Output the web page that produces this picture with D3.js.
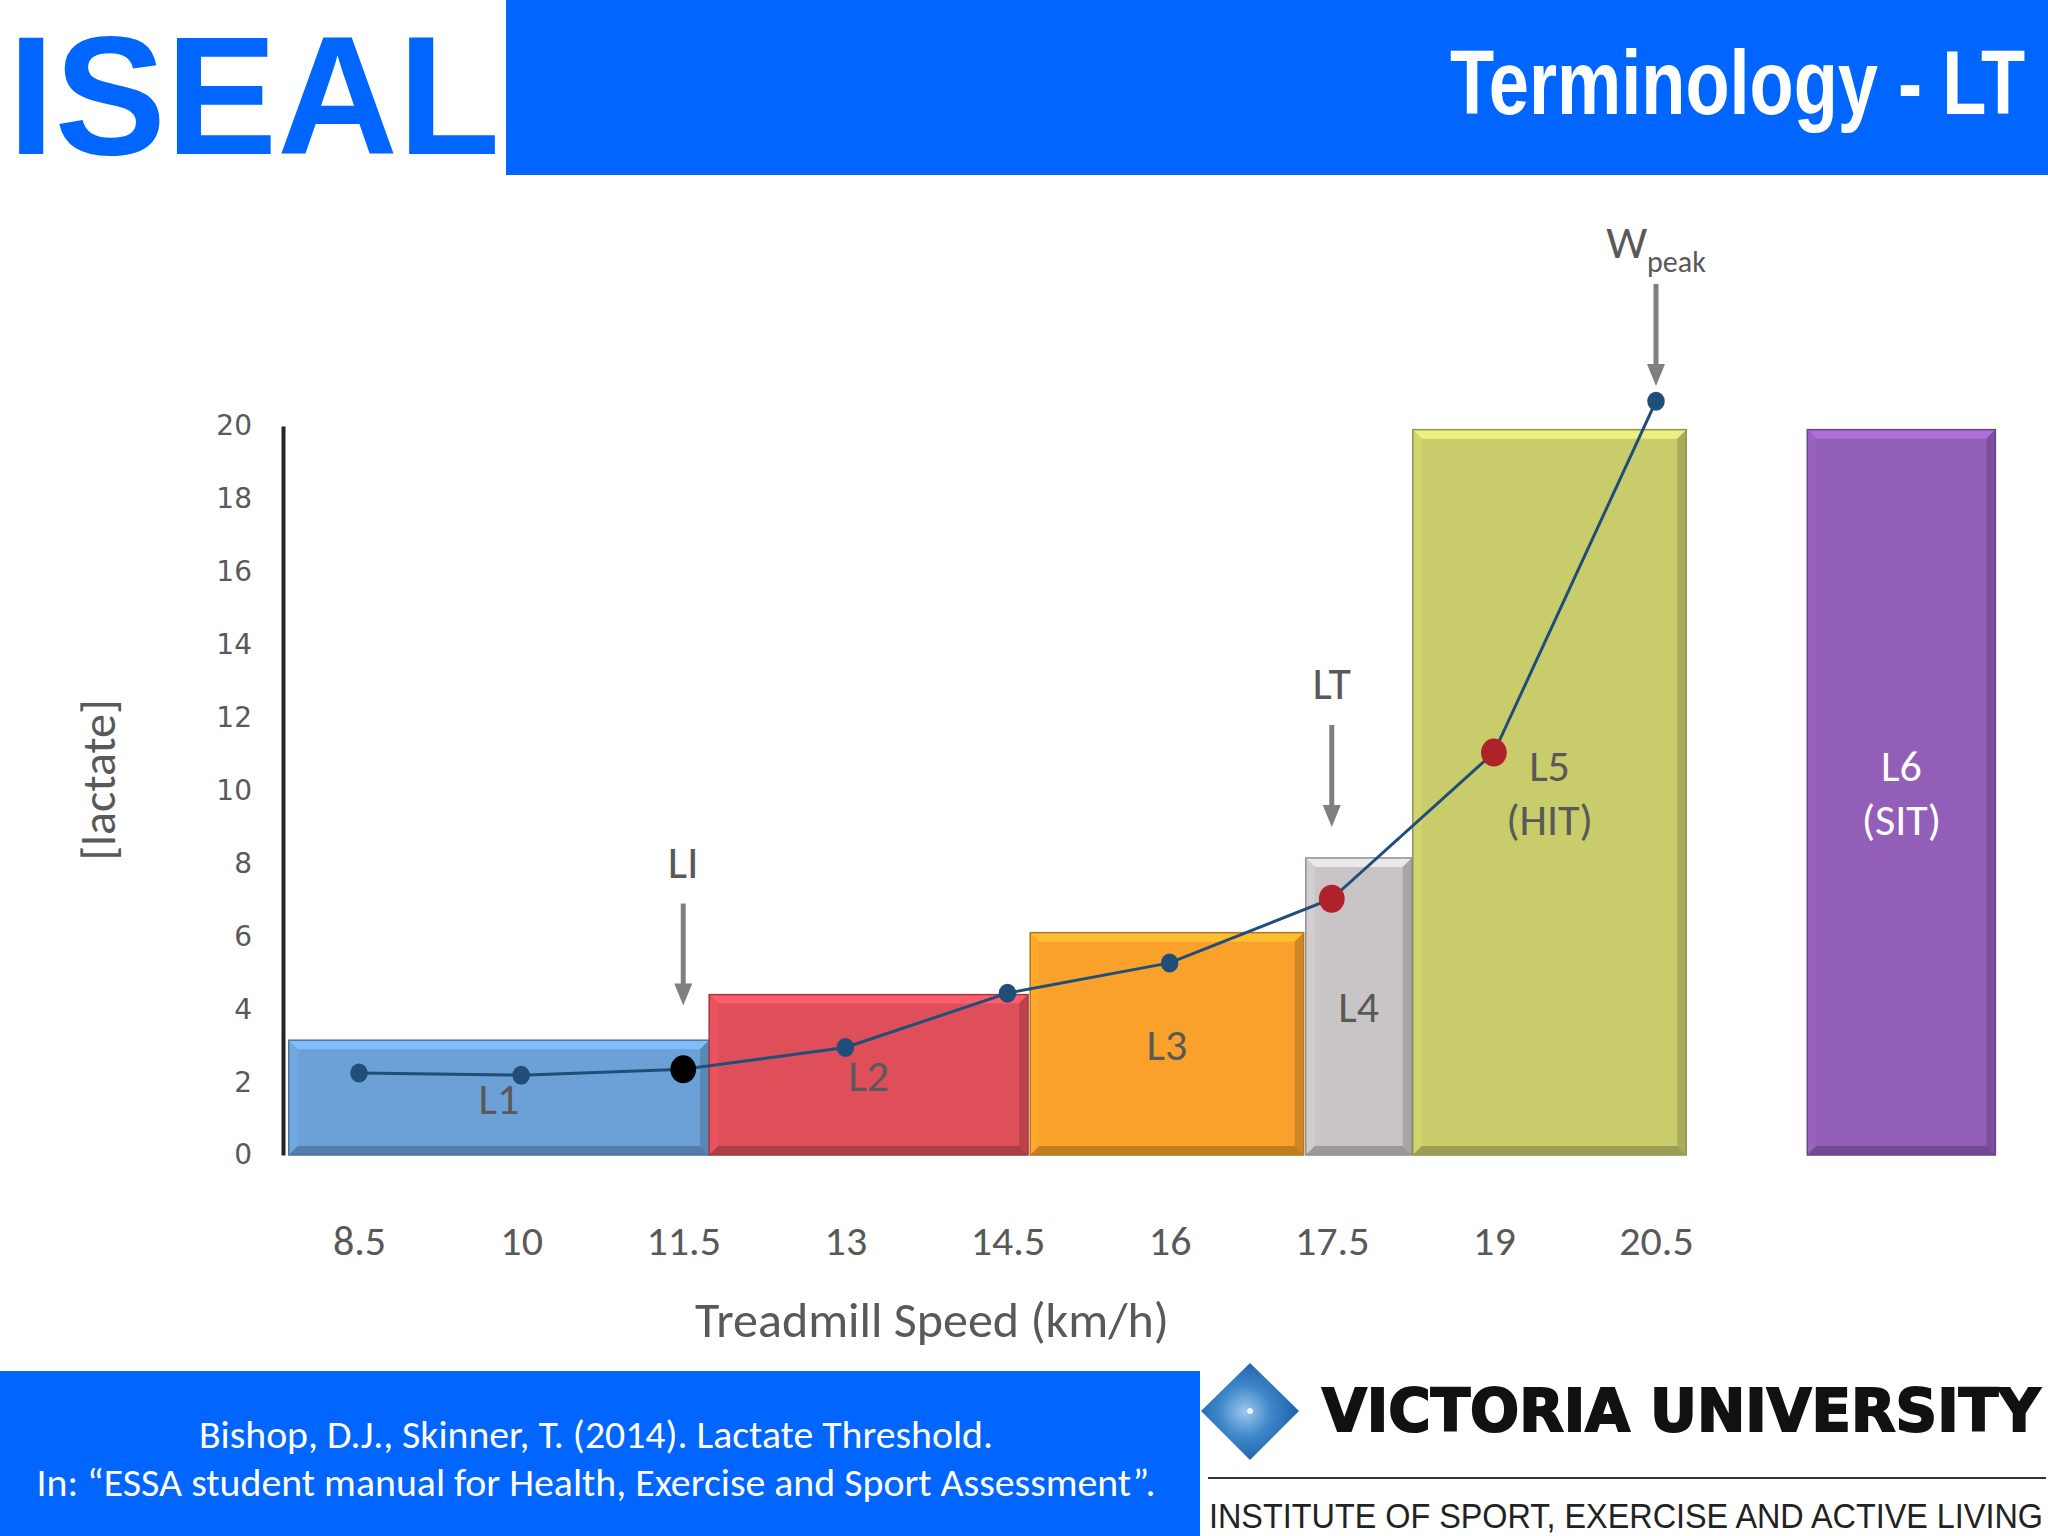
<!DOCTYPE html>
<html><head><meta charset="utf-8">
<script src="https://cdn.jsdelivr.net/npm/d3@7"></script>
<style>html,body{margin:0;padding:0;background:#fff;} svg{display:block;}</style>
</head><body>
<svg id="c" width="2048" height="1536"></svg>
<script>
// ---------- data ----------
const speeds = [8.5, 10, 11.5, 13, 14.5, 16, 17.5, 19, 20.5];
const speedLabels = ["8.5", "10", "11.5", "13", "14.5", "16", "17.5", "19", "20.5"];
const lactate = [2.25, 2.19, 2.35, 2.95, 4.44, 5.27, 7.03, 11.04, 20.68];
const pointKind = ["step", "step", "LI", "step", "step", "step", "LT", "LT", "step"];

const zoneNames = ["L1", "L2", "L3", "L4", "L5", "L6"];
const zoneSub = ["", "", "", "", "(HIT)", "(SIT)"];
const zoneFrom = [7.85, 11.74, 14.71, 17.26, 18.25, 21.9];
const zoneTo = [11.74, 14.69, 17.24, 18.24, 20.78, 23.64];
const zoneTop = [3.15, 4.4, 6.1, 8.15, 19.9, 19.9];
const zoneColors = ["#6ca1d7", "#df4f5a", "#f9a12a", "#c9c5c7", "#c8cc6b", "#935eb8"];
const zoneTextColors = ["#595959", "#595959", "#595959", "#595959", "#595959", "#ffffff"];

const yTicks = [0, 2, 4, 6, 8, 10, 12, 14, 16, 18, 20];

const annotLabels = ["LI", "LT", "W"];
const annotSub = ["", "", "peak"];
const annotSpeed = [11.5, 17.5, 20.5];
const annotTip = [4.1, 9.0, 21.1];

const titleText = "Terminology - LT";
const logoText = "ISEAL";
const xTitle = "Treadmill Speed (km/h)";
const yTitle = "[lactate]";
const refLines = ["Bishop, D.J., Skinner, T. (2014). Lactate Threshold.",
  "In: \u201CESSA student manual for Health, Exercise and Sport Assessment\u201D."];

// ---------- drawing ----------
const svg = d3.select("#c");
const CAL = "Carlito, Lato, 'Open Sans', sans-serif";
const BLUE = "#0066ff";

svg.append("rect").attr("width", 2048).attr("height", 1536).attr("fill", "#ffffff");

// header
svg.append("rect").attr("x", 506).attr("y", 0).attr("width", 1542).attr("height", 175).attr("fill", BLUE);
svg.append("text").attr("x", 8).attr("y", 154).text(logoText)
  .attr("font-family", "'Liberation Sans', Arial, sans-serif").attr("font-weight", "bold")
  .attr("font-size", 168).attr("fill", BLUE)
  .attr("textLength", 492).attr("lengthAdjust", "spacingAndGlyphs");
svg.append("text").attr("x", 2025).attr("y", 114).attr("text-anchor", "end").text(titleText)
  .attr("font-family", "'Liberation Sans Narrow', 'Arial Narrow', 'Liberation Sans', sans-serif")
  .attr("font-weight", "bold").attr("font-size", 90).attr("fill", "#ffffff")
  .attr("textLength", 575).attr("lengthAdjust", "spacingAndGlyphs");

// scales
const x = d3.scaleLinear().domain([8.5, 20.5]).range([359, 1656]);
const y = d3.scaleLinear().domain([0, 20]).range([1155, 426]);

// zones (bevelled bars)
const zones = zoneNames.map((n, i) => ({name: n, sub: zoneSub[i], from: zoneFrom[i], to: zoneTo[i],
  top: zoneTop[i], color: zoneColors[i], tc: zoneTextColors[i]}));
const zg = svg.append("g");
zones.forEach(d => {
  const g = zg.append("g");
  const x0 = x(d.from), x1 = x(d.to), y0 = y(d.top), y1 = y(0);
  const b = 9;
  const base = d3.color(d.color);
  const poly = pts => pts.map(p => p.join(",")).join(" ");
  g.append("rect").attr("x", x0).attr("y", y0).attr("width", x1 - x0).attr("height", y1 - y0).attr("fill", base);
  g.append("polygon").attr("points", poly([[x0, y0], [x1, y0], [x1 - b, y0 + b], [x0 + b, y0 + b]]))
    .attr("fill", base.brighter(0.45));
  g.append("polygon").attr("points", poly([[x0, y0], [x0 + b, y0 + b], [x0 + b, y1 - b], [x0, y1]]))
    .attr("fill", base.brighter(0.12));
  g.append("polygon").attr("points", poly([[x1, y0], [x1, y1], [x1 - b, y1 - b], [x1 - b, y0 + b]]))
    .attr("fill", base.darker(0.5));
  g.append("polygon").attr("points", poly([[x0, y1], [x1, y1], [x1 - b, y1 - b], [x0 + b, y1 - b]]))
    .attr("fill", base.darker(0.7));
  g.append("rect").attr("x", x0).attr("y", y0).attr("width", x1 - x0).attr("height", y1 - y0)
    .attr("fill", "none").attr("stroke", base.darker(0.9)).attr("stroke-width", 1.5);
});

// y axis
const yAxis = svg.append("g").attr("transform", "translate(283,0)")
  .call(d3.axisLeft(y).tickValues(yTicks).tickSizeInner(0).tickSizeOuter(0).tickPadding(31));
yAxis.select(".domain").attr("stroke", "#262626").attr("stroke-width", 4);
yAxis.selectAll("text").attr("font-family", "'DejaVu Sans', sans-serif").attr("font-size", 28)
  .attr("fill", "#595959");

// x axis (labels only)
const xAxis = svg.append("g").attr("transform", "translate(0,1225)")
  .call(d3.axisBottom(x).tickValues(speeds).tickFormat((d, i) => speedLabels[i]).tickSize(0).tickPadding(0));
xAxis.select(".domain").remove();
xAxis.selectAll("text").attr("font-family", CAL).attr("font-size", 42).attr("fill", "#595959");

// axis titles
svg.append("text").attr("x", 932).attr("y", 1337).attr("text-anchor", "middle").text(xTitle)
  .attr("font-family", CAL).attr("font-size", 50).attr("fill", "#595959");
svg.append("text").attr("transform", "translate(98,780) rotate(-90)").attr("text-anchor", "middle")
  .attr("dy", "0.35em").text(yTitle)
  .attr("font-family", CAL).attr("font-size", 48).attr("fill", "#595959");

// lactate curve
const pts = speeds.map((s, i) => ({s, v: lactate[i], k: pointKind[i]}));
svg.append("path").datum(pts)
  .attr("d", d3.line().x(d => x(d.s)).y(d => y(d.v)))
  .attr("fill", "none").attr("stroke", "#1f4e79").attr("stroke-width", 3);
const kindFill = {step: "#1f4e79", LI: "#000000", LT: "#b0222a"};
const kindR = {step: 9.5, LI: 14, LT: 14};
svg.append("g").selectAll("ellipse").data(pts).join("ellipse")
  .attr("cx", d => x(d.s)).attr("cy", d => y(d.v))
  .attr("rx", d => kindR[d.k] * 0.92).attr("ry", d => kindR[d.k])
  .attr("fill", d => kindFill[d.k]);

// zone labels
zones.forEach(d => {
  const cx = (x(d.from) + x(d.to)) / 2, cy = y(d.top / 2);
  const t = svg.append("text").attr("text-anchor", "middle").attr("font-family", CAL)
    .attr("font-size", 44).attr("fill", d.tc);
  if (d.sub) {
    t.append("tspan").attr("x", cx).attr("y", cy - 27 + 16).text(d.name);
    t.append("tspan").attr("x", cx).attr("y", cy + 27 + 16).text(d.sub);
  } else {
    t.attr("x", cx).attr("y", cy + 16).text(d.name);
  }
});

// annotation arrows
annotLabels.forEach((lab, i) => {
  const ax = x(annotSpeed[i]), tip = y(annotTip[i]);
  const len = 102, head = 22, hw = 9;
  svg.append("line").attr("x1", ax).attr("x2", ax).attr("y1", tip - len).attr("y2", tip - head + 2)
    .attr("stroke", "#7f7f7f").attr("stroke-width", 5);
  svg.append("polygon").attr("points", `${ax - hw},${tip - head} ${ax + hw},${tip - head} ${ax},${tip}`)
    .attr("fill", "#7f7f7f");
  const t = svg.append("text").attr("x", ax).attr("y", tip - len - 26).attr("text-anchor", "middle")
    .attr("font-family", CAL).attr("font-size", 46).attr("fill", "#595959").text(lab);
  if (annotSub[i]) {
    t.append("tspan").attr("dy", 14).attr("font-size", 30).text(annotSub[i]);
  }
});

// footer reference box
svg.append("rect").attr("x", 0).attr("y", 1371).attr("width", 1200).attr("height", 165).attr("fill", BLUE);
const refLen = [794, 1119];
refLines.forEach((l, i) => {
  svg.append("text").attr("x", 596).attr("y", 1448 + i * 48).attr("text-anchor", "middle")
    .attr("font-family", CAL).attr("font-size", 38).attr("fill", "#ffffff")
    .attr("textLength", refLen[i]).attr("lengthAdjust", "spacingAndGlyphs").text(l);
});

// Victoria University logo
const defs = svg.append("defs");
const rg = defs.append("radialGradient").attr("id", "dia").attr("cx", "45%").attr("cy", "50%").attr("r", "60%");
rg.append("stop").attr("offset", "0%").attr("stop-color", "#9cc8ee");
rg.append("stop").attr("offset", "45%").attr("stop-color", "#3d86c8");
rg.append("stop").attr("offset", "100%").attr("stop-color", "#1b5aa0");
svg.append("polygon").attr("points", "1250,1363 1299,1411 1250,1460 1201,1411").attr("fill", "url(#dia)");
svg.append("circle").attr("cx", 1250).attr("cy", 1411).attr("r", 3).attr("fill", "#e8f4ff");
svg.append("text").attr("x", 1322).attr("y", 1431).text("VICTORIA UNIVERSITY")
  .attr("font-family", "'DejaVu Sans', sans-serif").attr("font-weight", "bold").attr("font-size", 58)
  .attr("fill", "#111111").attr("stroke", "#111111").attr("stroke-width", 2)
  .attr("textLength", 718).attr("lengthAdjust", "spacingAndGlyphs");
svg.append("line").attr("x1", 1208).attr("x2", 2046).attr("y1", 1478).attr("y2", 1478)
  .attr("stroke", "#333333").attr("stroke-width", 2);
svg.append("text").attr("x", 1209).attr("y", 1528).text("INSTITUTE OF SPORT, EXERCISE AND ACTIVE LIVING")
  .attr("font-family", "'Liberation Sans Narrow', 'Liberation Sans', sans-serif").attr("font-size", 35)
  .attr("fill", "#222222").attr("textLength", 834).attr("lengthAdjust", "spacingAndGlyphs");
</script>
</body></html>
